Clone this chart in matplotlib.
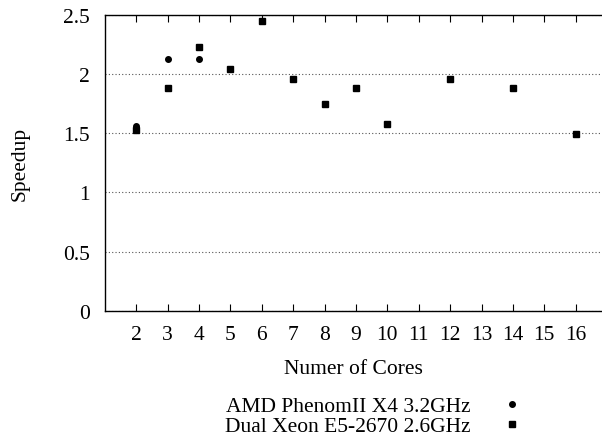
"""
Speedup vs number of cores for two machines.
"""
import matplotlib
matplotlib.use('Agg')
import matplotlib.pyplot as plt

cores_amd = [2, 3, 4]
speedup_amd = [1.56, 2.13, 2.13]

cores_xeon = [2, 3, 4, 5, 6, 7, 8, 9, 10, 12, 14, 16]
speedup_xeon = [1.53, 1.88, 2.23, 2.04, 2.45, 1.96, 1.75, 1.88, 1.58, 1.96, 1.88, 1.49]

x_ticks = list(range(2, 17))
y_ticks = [0, 0.5, 1, 1.5, 2, 2.5]
y_tick_labels = ['0', '0.5', '1', '1.5', '2', '2.5']

plt.rcParams['font.family'] = ['Liberation Serif', 'DejaVu Serif']
plt.rcParams['font.size'] = 15.5

fig = plt.figure(figsize=(6.02, 4.39), dpi=100)
ax = fig.add_axes([0.1744, 0.29, 0.8256, 0.674])

ax.plot(cores_amd, speedup_amd, 'o', color='black', markersize=4,
        label='AMD PhenomII X4 3.2GHz')
ax.plot(cores_xeon, speedup_xeon, 's', color='black', markersize=4.5,
        label='Dual Xeon E5-2670 2.6GHz')

ax.set_xlim(1, 16.84)
ax.set_ylim(0, 2.5)
ax.set_xticks(x_ticks)
ax.set_yticks(y_ticks)
ax.set_yticklabels(y_tick_labels)
ax.tick_params(axis='x', direction='in', top=True, length=5, width=0.8, pad=10)
ax.tick_params(axis='y', length=0, pad=11)
ax.yaxis.grid(True, linestyle=(0, (1, 2)), color='#555555', linewidth=0.8)
ax.spines['right'].set_visible(False)
for s in ['left', 'bottom', 'top']:
    ax.spines[s].set_linewidth(1.0)

ax.set_xlabel('Numer of Cores', labelpad=11)
ax.set_ylabel('Speedup', labelpad=24)

# legend sits just above the bottom edge, text right of which the marker is drawn
fig.legend(loc='lower right', bbox_to_anchor=(523 / 602, 0.004),
           frameon=False, markerfirst=False, handletextpad=1.45,
           labelspacing=0.0, borderpad=0, borderaxespad=0, handlelength=1.0)

fig.savefig('out.png', dpi=100)
